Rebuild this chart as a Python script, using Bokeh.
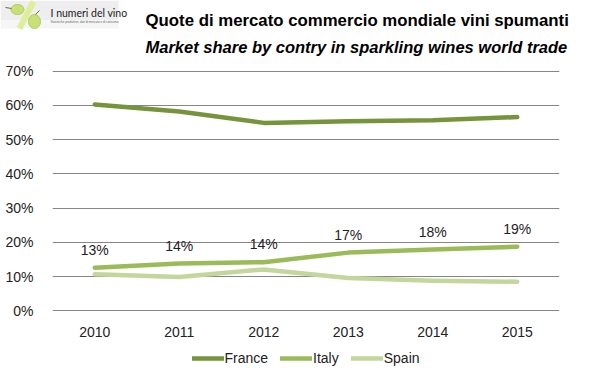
from bokeh.plotting import figure
from bokeh.layouts import column, row
from bokeh.models import (Range1d, FactorRange, PrintfTickFormatter, FixedTicker, Legend, LegendItem,
                          ColumnDataSource)
from bokeh.core.properties import value
from bokeh.embed import file_html
from bokeh.resources import INLINE

years = ["2010", "2011", "2012", "2013", "2014", "2015"]
france = [60.3, 58.2, 54.9, 55.4, 55.7, 56.6]
italy = [12.6, 13.8, 14.2, 17.0, 17.9, 18.7]
spain = [10.7, 9.9, 12.1, 9.6, 8.8, 8.5]
italy_labels = ["13%", "14%", "14%", "17%", "18%", "19%"]
y_ticks = [0, 10, 20, 30, 40, 50, 60, 70]
series_names = ["France", "Italy", "Spain"]

title1 = "Quote di mercato commercio mondiale vini spumanti"
title2 = "Market share by contry in sparkling wines world trade"
logo_title = "I numeri del vino"
logo_sub = "Statistiche produttive, dati di mercato e di consumo."

FONT = "Liberation Sans"
colors = ["#77933C", "#9BBB59", "#C3D69B"]
TOP_H = 60
W = 583


def blank(width, height, xr, yr):
    f = figure(width=width, height=height, x_range=xr, y_range=yr, output_backend="svg",
               toolbar_location=None, min_border=0)
    f.axis.visible = False
    f.grid.visible = False
    f.outline_line_color = None
    return f


# ---- logo (page-like coordinates, y downward) ----
LW = 145
logo = blank(LW, TOP_H, Range1d(0, LW), Range1d(TOP_H, 0))
logo.quad(left=[0], right=[118], top=[0], bottom=[20], fill_color="#eeeeee", line_color=None)
logo.quad(left=[0], right=[118], top=[20], bottom=[28], fill_color="#f6f6f6", line_color=None)
logo.segment(x0=[33], y0=[1], x1=[19], y1=[28], line_color="#dfee9a", line_width=6)
logo.ellipse(x=[17], y=[9], width=[13], height=[10], fill_color="#c9df78", line_color="#b5cc5c")
logo.ellipse(x=[34], y=[21], width=[12], height=[14], fill_color="#c9df78", line_color="#b5cc5c")
logo.segment(x0=[5, 35], y0=[7, 14], x1=[11, 39], y1=[8, 10], line_color="#6b6b3a", line_width=1)
logo.text(x=[50], y=[12], text=[logo_title], text_font=value("Lato"), text_font_size="10.5px",
          text_baseline="middle", text_color="#222222")
logo.text(x=[50], y=[21], text=[logo_sub], text_font=value(FONT), text_font_size="3px",
          text_baseline="middle", text_color="#666666")

# ---- titles ----
tfig = blank(W - LW, TOP_H, Range1d(0, W - LW), Range1d(TOP_H, 0))
tfig.text(x=[0], y=[20], text=[title1], text_font=value(FONT), text_font_style="bold",
          text_font_size="16.8px", text_baseline="middle", text_color="black")
tfig.text(x=[0], y=[46], text=[title2], text_font=value(FONT), text_font_style="bold italic",
          text_font_size="16.5px", text_baseline="middle", text_color="black")

# ---- main chart ----
p = figure(width=W, height=281, x_range=FactorRange(*years), y_range=Range1d(-0.2, 70.2),
           output_backend="svg", toolbar_location=None,
           min_border_left=52, min_border_right=W - 52 - 507, min_border_top=10, min_border_bottom=30)
p.outline_line_color = None
p.xgrid.grid_line_color = None
p.ygrid.grid_line_color = "#868686"
p.ygrid.grid_line_width = 1

p.yaxis.ticker = FixedTicker(ticks=y_ticks)
p.yaxis.formatter = PrintfTickFormatter(format="%d%%")
for ax in (p.xaxis[0], p.yaxis[0]):
    ax.axis_line_color = None
    ax.major_tick_line_color = None
    ax.minor_tick_line_color = None
    ax.major_label_text_font = FONT
    ax.major_label_text_font_size = "14px"
    ax.major_label_text_color = "#222222"
p.yaxis.major_label_standoff = 13
p.xaxis.major_label_standoff = 9

for vals, c in zip([spain, italy, france], [colors[2], colors[1], colors[0]]):
    p.line(years, vals, line_color=c, line_width=4.5, line_cap="round", line_join="round")

src = ColumnDataSource(dict(x=years, y=italy, t=italy_labels))
p.text(x="x", y="y", text="t", source=src, y_offset=-18, text_align="center",
       text_baseline="middle", text_font_size="14px", text_color="#222222",
       text_font=value(FONT))

# ---- legend (own strip below) ----
lfig = blank(W, 34, Range1d(0, 1), Range1d(0, 1))
items = []
for name, c in zip(series_names, colors):
    r = lfig.line([-10, -9], [-10, -9], line_color=c, line_width=4.5, line_cap="round")
    items.append(LegendItem(label=name, renderers=[r]))
legend = Legend(items=items, orientation="horizontal", location="center",
                glyph_width=32, glyph_height=14, label_standoff=1, spacing=12,
                padding=0, margin=0, border_line_color=None, background_fill_alpha=0,
                label_text_font=FONT, label_text_font_size="14px", label_text_color="#222222")
lfig.add_layout(legend, "center")

layout = column(row(logo, tfig, spacing=0), p, lfig, spacing=0)
open("out.html", "w").write(file_html(layout, INLINE))
